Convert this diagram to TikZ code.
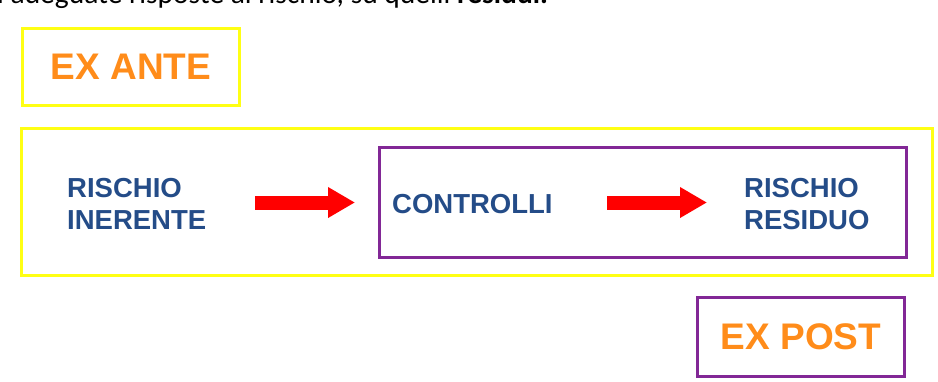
\documentclass[tikz,border=0pt]{standalone}
\usepackage{fontspec}
\setmainfont{Liberation Sans}
\newfontfamily\bodyfont{Carlito}
\usetikzlibrary{arrows.meta}

\definecolor{boxyellow}{RGB}{255,255,20}
\definecolor{boxpurple}{RGB}{130,40,150}
\definecolor{labelorange}{RGB}{255,140,26}
\definecolor{labelblue}{RGB}{36,76,136}
\definecolor{arrowred}{RGB}{255,0,0}

\tikzset{
  frame/.style={draw, line width=3.2pt, inner sep=0pt, fill=none},
  yframe/.style={frame, draw=boxyellow},
  pframe/.style={frame, draw=boxpurple},
  phase/.style={text=labelorange, font=\fontsize{37}{40}\selectfont\bfseries},
  item/.style={text=labelblue, font=\fontsize{27.5}{32}\selectfont\bfseries,
    inner sep=0pt, anchor=base west},
  blockarrow/.style={draw=arrowred, line width=14pt,
    -{Triangle[length=27pt,width=29pt]}},
}

\begin{document}
\begin{tikzpicture}[x=1pt,y=-1pt]
  \useasboundingbox (0,0) rectangle (938,381);
  \clip (0,0) rectangle (938,381);
  \fill[white] (0,0) rectangle (938,381);

  % running text line above the figure
  \node[anchor=base west, inner sep=0pt, font=\bodyfont\fontsize{29.5}{34}\selectfont]
    (line) at (-3,3) {i adeguate risposte al rischio, su quelli \textbf{residui.}};

  % phase labels
  \node[yframe, phase, minimum width=217pt, minimum height=77pt] (exante) at (131,67) {EX ANTE};
  \node[pframe, phase, minimum width=207pt, minimum height=79pt] (expost) at (801,337) {EX POST};

  % outer frame and controls frame
  \node[yframe, minimum width=911pt, minimum height=147pt] (outer) at (477,202) {};
  \node[pframe, minimum width=527pt, minimum height=110pt] (inner) at (643,202.5) {};

  % process items
  \node[item] (ri1) at (67,197) {RISCHIO};
  \node[item] (ri2) at (67,229) {INERENTE};
  \node[item] (ctl) at (392,213) {CONTROLLI};
  \node[item] (rr1) at (744,197) {RISCHIO};
  \node[item] (rr2) at (744,229) {RESIDUO};

  % block arrows
  \coordinate (a1s) at (255,202.5);
  \coordinate (a1e) at (355,202.5);
  \coordinate (a2s) at (607,202.5);
  \coordinate (a2e) at (707,202.5);
  \draw[blockarrow] (a1s) -- (a1e);
  \draw[blockarrow] (a2s) -- (a2e);
\end{tikzpicture}
\end{document}
